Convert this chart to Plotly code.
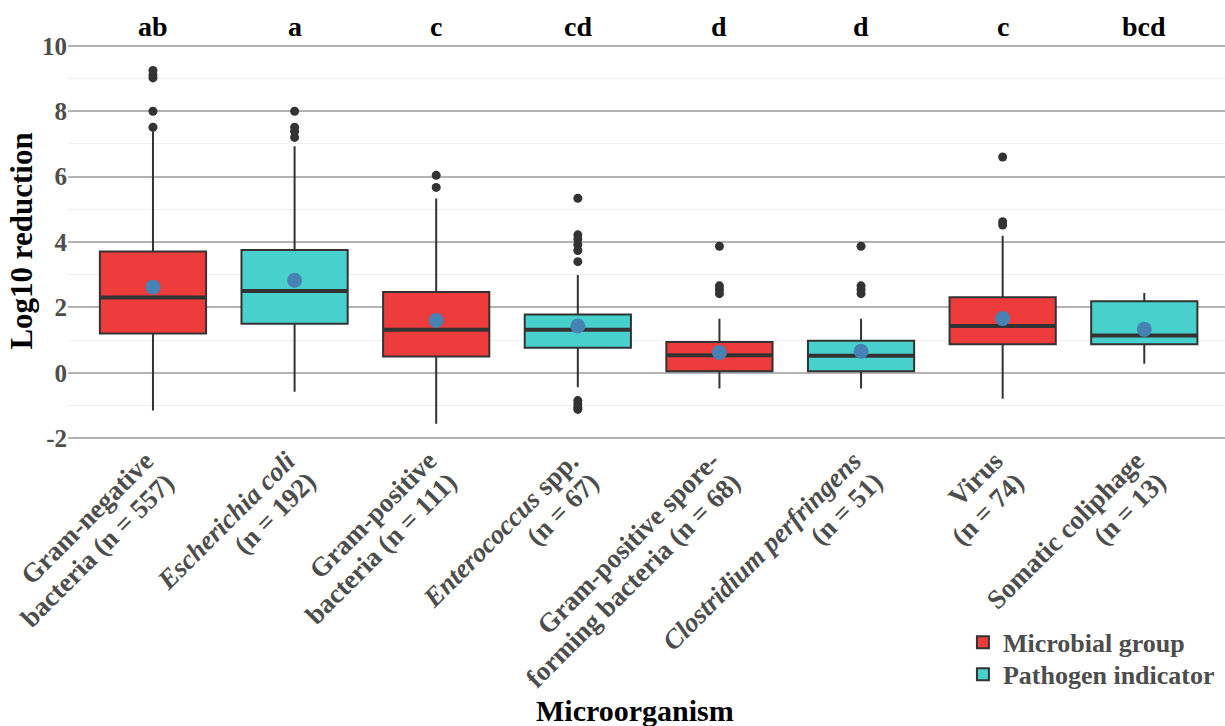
import plotly.graph_objects as go

# Microorganism groups (x order), their type and summary statistics of log10 reduction
labels = [
    "Gram-negative<br>bacteria (n = 557)",
    "<i>Escherichia coli</i><br>(n = 192)",
    "Gram-positive<br>bacteria (n = 111)",
    "<i>Enterococcus</i> spp.<br>(n = 67)",
    "Gram-positive spore-<br>forming bacteria (n = 68)",
    "<i>Clostridium perfringens</i><br>(n = 51)",
    "Virus<br>(n = 74)",
    "Somatic coliphage<br>(n = 13)",
]
group = ["Microbial group", "Pathogen indicator", "Microbial group", "Pathogen indicator",
         "Microbial group", "Pathogen indicator", "Microbial group", "Pathogen indicator"]
letters = ["ab", "a", "c", "cd", "d", "d", "c", "bcd"]

q1 = [1.20, 1.50, 0.50, 0.77, 0.05, 0.05, 0.87, 0.87]
median = [2.30, 2.50, 1.32, 1.32, 0.54, 0.52, 1.43, 1.14]
q3 = [3.71, 3.76, 2.47, 1.78, 0.94, 0.98, 2.31, 2.19]
lower_whisker = [-1.15, -0.58, -1.56, -0.44, -0.48, -0.48, -0.79, 0.28]
upper_whisker = [7.39, 6.93, 5.33, 2.99, 1.65, 1.65, 4.19, 2.44]
mean = [2.62, 2.83, 1.60, 1.43, 0.62, 0.66, 1.66, 1.33]
outliers = [
    [7.51, 8.00, 9.02, 9.12, 9.25],
    [7.20, 7.39, 7.51, 8.00],
    [5.67, 6.04],
    [5.34, 4.22, 4.09, 3.92, 3.74, 3.40, -0.85, -0.95, -1.05, -1.12],
    [3.87, 2.66, 2.54, 2.42],
    [3.87, 2.66, 2.54, 2.42],
    [6.60, 4.62, 4.52],
    [],
]
y_ticks = [-2, 0, 2, 4, 6, 8, 10]

colors = {"Microbial group": "#EE3B3B", "Pathogen indicator": "#48D1CC"}
FONT = "Liberation Serif"
DARK = "#333333"
GREY_TXT = "#4D4D4D"
BOX_W = 0.75
LABEL_SIZE = 27
LINE_STEP = 21  # per-line offset (px) along x and y for the 45-degree labels

pos = list(range(len(labels)))
fig = go.Figure()

# Boxes from precomputed statistics, one trace (and one legend) per group type
for g, leg in [("Microbial group", "legend"), ("Pathogen indicator", "legend2")]:
    idx = [i for i in pos if group[i] == g]
    fig.add_trace(go.Box(
        name=g,
        legend=leg,
        x=[pos[i] for i in idx],
        q1=[q1[i] for i in idx],
        median=[median[i] for i in idx],
        q3=[q3[i] for i in idx],
        lowerfence=[lower_whisker[i] for i in idx],
        upperfence=[upper_whisker[i] for i in idx],
        width=BOX_W,
        whiskerwidth=0,
        fillcolor=colors[g],
        line=dict(color=DARK, width=2),
        boxpoints=False,
        hoverinfo="skip",
    ))

# Thicker median bars
mx, my = [], []
for i in pos:
    mx += [pos[i] - BOX_W / 2, pos[i] + BOX_W / 2, None]
    my += [median[i], median[i], None]
fig.add_trace(go.Scatter(x=mx, y=my, mode="lines", line=dict(color=DARK, width=4),
                         showlegend=False, hoverinfo="skip"))

# Outlying observations
ox, oy = [], []
for i in pos:
    for v in outliers[i]:
        ox.append(pos[i])
        oy.append(v)
fig.add_trace(go.Scatter(x=ox, y=oy, mode="markers",
                         marker=dict(color=DARK, size=9),
                         showlegend=False, hoverinfo="skip"))

# Group means
fig.add_trace(go.Scatter(x=pos, y=mean, mode="markers",
                         marker=dict(color="#4682B4", size=15),
                         showlegend=False, hoverinfo="skip"))

# Significance letters above each box
for i in pos:
    fig.add_annotation(x=pos[i], y=10.58, xref="x", yref="y", text=letters[i],
                       showarrow=False, yanchor="middle",
                       font=dict(family=FONT, size=28, color="black", weight="bold"))

# Rotated category labels: each line is right-aligned and hangs below its category
for i in pos:
    for j, line in enumerate(labels[i].split("<br>")):
        fig.add_annotation(x=pos[i], y=0, xref="x", yref="paper", text=line,
                           textangle=-45, showarrow=False, xanchor="right", yanchor="top",
                           xshift=9 + LINE_STEP * j, yshift=5 - LINE_STEP * j,
                           font=dict(family=FONT, size=LABEL_SIZE, color=GREY_TXT,
                                     weight="bold"))

# Axis titles
fig.add_annotation(x=-0.041, y=0.487, xref="paper", yref="paper", text="Log10 reduction",
                   textangle=-90, showarrow=False, xanchor="center", yanchor="middle",
                   font=dict(family=FONT, size=31, color="black", weight="bold"))
fig.add_annotation(x=0.49, y=-0.660, xref="paper", yref="paper", text="Microorganism",
                   showarrow=False, xanchor="center", yanchor="bottom",
                   font=dict(family=FONT, size=30, color="black", weight="bold"))

legend_style = dict(
    xanchor="left", yanchor="middle",
    font=dict(family=FONT, size=26, color=GREY_TXT, weight="bold"),
    bgcolor="rgba(0,0,0,0)",
)

fig.update_layout(
    width=1225, height=726, autosize=False,
    margin=dict(l=68, r=0, t=23, b=278),
    paper_bgcolor="white", plot_bgcolor="white",
    boxmode="overlay",
    xaxis=dict(
        range=[-0.6, 7.57], tickmode="array", tickvals=pos, showticklabels=False,
        showgrid=False, zeroline=False, showline=False, ticks="",
    ),
    yaxis=dict(
        range=[-2.3, 10.7], tickmode="array", tickvals=y_ticks,
        ticktext=[str(v) for v in y_ticks],
        showgrid=True, gridcolor="#B3B3B3",
        gridwidth=1.5, zeroline=False, showline=False, ticks="",
        tickfont=dict(family=FONT, size=25, color=GREY_TXT, weight="bold"),
        minor=dict(tickmode="linear", tick0=-1, dtick=2, showgrid=True,
                   gridcolor="#EFEFEF", gridwidth=1),
    ),
    legend=dict(x=0.7735, y=-0.4573, **legend_style),
    legend2=dict(x=0.7735, y=-0.5326, **legend_style),
    showlegend=True,
)

fig.write_html("out.html")
